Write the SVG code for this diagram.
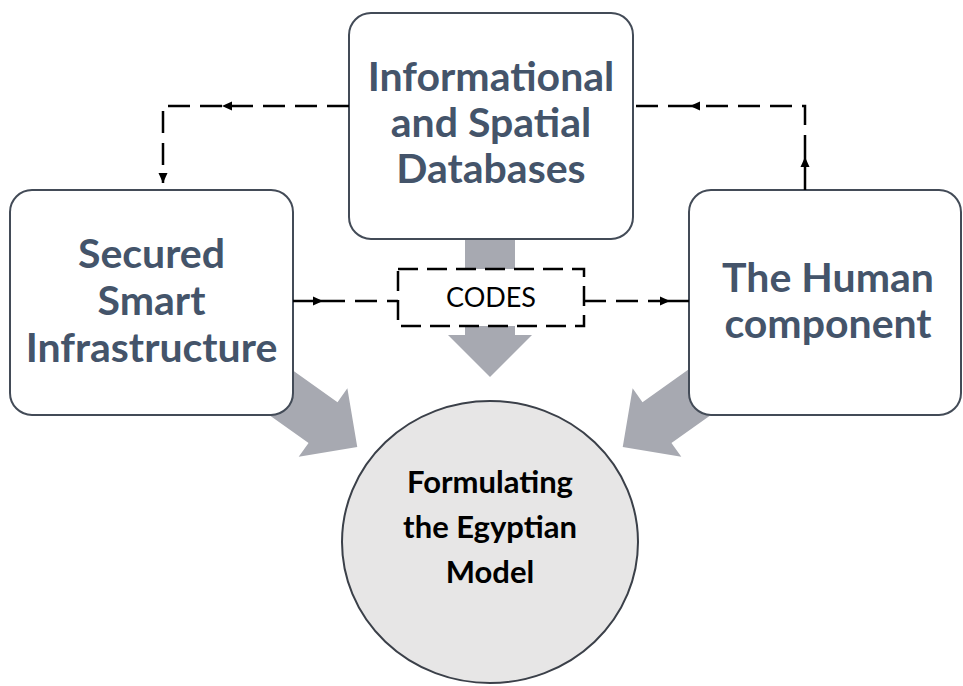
<svg xmlns="http://www.w3.org/2000/svg" xmlns:xlink="http://www.w3.org/1999/xlink" width="963" height="686" viewBox="0 0 963 686">
<style>
.box{fill:#ffffff;stroke:#434b57;stroke-width:2}
.big{font-family:Lato,"Open Sans","Liberation Sans",sans-serif;font-weight:bold;font-size:41px;fill:#44546A;text-anchor:middle}
.circ{font-family:Lato,"Open Sans","Liberation Sans",sans-serif;font-weight:bold;font-size:31px;fill:#000000;text-anchor:middle}
.codes{font-family:Lato,"Open Sans","Liberation Sans",sans-serif;font-size:27px;fill:#000000;text-anchor:middle}
.dash{fill:none;stroke:#000000;stroke-width:2.5;stroke-dasharray:22 10}
.solid{fill:none;stroke:#000000;stroke-width:2.5}
.garrow{fill:#A7A9B1}
</style>
<defs>
<marker id="arr" markerUnits="userSpaceOnUse" markerWidth="11" markerHeight="10" refX="10" refY="5" orient="auto">
<path d="M0,0.5 L10,5 L0,9.5 z" fill="#000000"/>
</marker>
<polygon id="gray" points="0,-25 108,-25 108,-42 150,0 108,42 108,25 0,25"/>
</defs>
<g id="gray-arrows">
<use xlink:href="#gray" class="garrow" transform="translate(490,227) rotate(90)"/>
<use xlink:href="#gray" class="garrow" transform="translate(235,360) rotate(35.4)"/>
<use xlink:href="#gray" class="garrow" transform="translate(745,360) rotate(144.6)"/>
</g>
<g id="node-databases">
<rect class="box" x="349" y="13" width="284" height="226" rx="22"/>
<text class="big" x="491" y="91">Informational</text>
<text class="big" x="491" y="137">and Spatial</text>
<text class="big" x="491" y="183">Databases</text>
</g>
<g id="node-infrastructure">
<rect class="box" x="10" y="190" width="283" height="225" rx="22"/>
<text class="big" x="151.5" y="268">Secured</text>
<text class="big" x="151.5" y="315">Smart</text>
<text class="big" x="151.5" y="362">Infrastructure</text>
</g>
<g id="node-human">
<rect class="box" x="689" y="190" width="272" height="225" rx="22"/>
<text class="big" x="828" y="292">The Human</text>
<text class="big" x="828" y="338">component</text>
</g>
<g id="node-model">
<ellipse cx="490" cy="542" rx="148" ry="141" fill="#E7E6E6" stroke="#3b4049" stroke-width="2"/>
<text class="circ" x="490" y="493">Formulating</text>
<text class="circ" x="490" y="538">the Egyptian</text>
<text class="circ" x="490" y="583">Model</text>
</g>
<g id="node-codes">
<rect x="398" y="269" width="186" height="57" fill="#ffffff" stroke="#000000" stroke-width="2.5" stroke-dasharray="20 9"/>
<text class="codes" x="491" y="307">CODES</text>
</g>
<g id="connectors">
<path class="dash" d="M349,106 H222" marker-end="url(#arr)"/>
<path class="dash" d="M222,106 H163 V183" marker-end="url(#arr)"/>
<path class="solid" d="M805,190 V157" marker-end="url(#arr)"/>
<path class="dash" d="M805,157 V106 H690" marker-end="url(#arr)"/>
<path class="dash" d="M690,106 H633"/>
<path class="solid" d="M293,301 H323" marker-end="url(#arr)"/>
<path class="dash" d="M323,301 H398"/>
<path class="dash" d="M584,301 H670" marker-end="url(#arr)"/>
<path class="solid" d="M670,301 H689"/>
</g>
</svg>
